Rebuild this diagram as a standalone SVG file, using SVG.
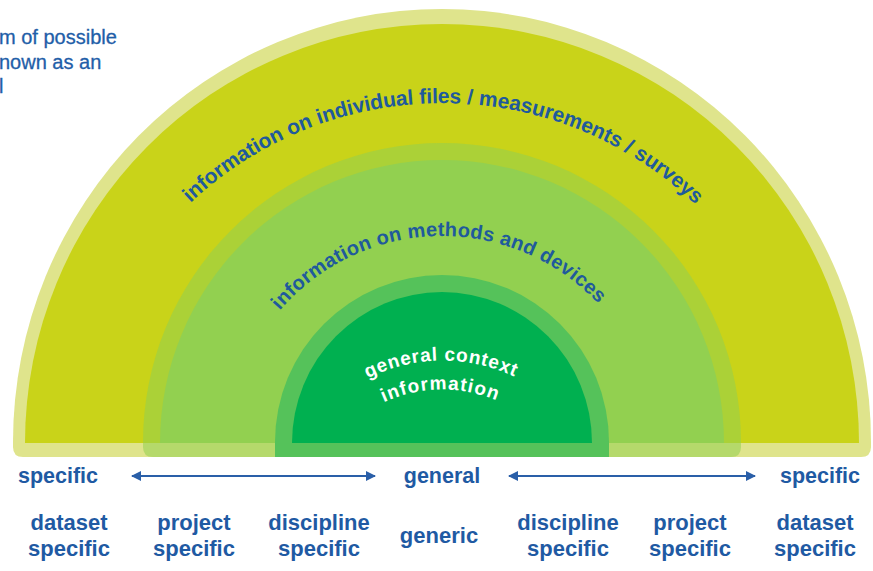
<svg xmlns="http://www.w3.org/2000/svg" width="873" height="571" viewBox="0 0 873 571">
<style>
.lbl{font-family:"Liberation Sans",Arial,sans-serif;font-weight:bold;fill:#1f5aa3;text-anchor:middle}
.arc{font-family:"Liberation Sans",Arial,sans-serif;font-weight:bold;fill:#1f5a9c}
.wht{font-family:"Liberation Sans",Arial,sans-serif;font-weight:bold;fill:#ffffff}
.note{font-family:"Liberation Sans",Arial,sans-serif;fill:#1f5ea8;font-size:20px;stroke:#1f5ea8;stroke-width:0.3}
.conn{stroke:#2a5fa8;stroke-width:2;fill:none}
</style>
<defs>
<marker id="ah" viewBox="0 0 10 10" refX="9" refY="5" markerWidth="5" markerHeight="5" orient="auto-start-reverse" markerUnits="strokeWidth">
<path d="M0,0 L10,5 L0,10 Z" fill="#2a5fa8"/>
</marker>
<path id="tp1" d="M75,470 A367,367 0 0 1 809,470"/>
<path id="tp2" d="M228,450 A214,214 0 0 1 656,450"/>
<path id="tp3" d="M362,381 Q440,341 520,379"/>
<path id="tp4" d="M380,404 Q440,376 500,402"/>
</defs>
<rect width="873" height="571" fill="#ffffff"/>

<g id="note">
<text class="note" x="-1" y="44">m of possible</text>
<text class="note" x="-1" y="69">nown as an</text>
<text class="note" x="-1" y="93">l</text>
</g>

<g id="outer">
<path d="M13,442 A429,433 0 0 1 871,442 L871,447 Q871,457 861,457 L23,457 Q13,457 13,447 Z" fill="#dfe48c"/>
<path d="M25,443 A417,419 0 0 1 859,443 Z" fill="#c9d319"/>
<text class="arc" font-size="21"><textPath href="#tp1" startOffset="299" textLength="557" lengthAdjust="spacing">information on individual files / measurements / surveys</textPath></text>
</g>

<g id="middle">
<path d="M143,442 A299,299 0 0 1 741,442 L741,447 Q741,457 731,457 L153,457 Q143,457 143,447 Z" fill="#92d050" fill-opacity="0.55"/>
<path d="M160,443 A282,283 0 0 1 724,443 Z" fill="#92d050"/>
<text class="arc" font-size="20"><textPath href="#tp2" startOffset="152" textLength="359" lengthAdjust="spacing">information on methods and devices</textPath></text>
</g>

<g id="inner">
<path d="M275,442 A167,167 0 0 1 609,442 L609,457 L275,457 Z" fill="#55c25a"/>
<path d="M292,443 A150,151 0 0 1 592,443 Z" fill="#00b050"/>
<text class="wht" font-size="19"><textPath href="#tp3" startOffset="50%" text-anchor="middle" textLength="152" lengthAdjust="spacing">general context</textPath></text>
<text class="wht" font-size="19"><textPath href="#tp4" startOffset="50%" text-anchor="middle" textLength="116" lengthAdjust="spacing">information</textPath></text>
</g>

<g id="connectors">
<line class="conn" x1="132" y1="476" x2="375" y2="476" marker-start="url(#ah)" marker-end="url(#ah)"/>
<line class="conn" x1="509" y1="476" x2="755" y2="476" marker-start="url(#ah)" marker-end="url(#ah)"/>
</g>

<g id="scale-labels">
<text class="lbl" font-size="21.5" x="58" y="483">specific</text>
<text class="lbl" font-size="21.5" x="442" y="483">general</text>
<text class="lbl" font-size="21.5" x="820" y="483">specific</text>
</g>

<g id="category-labels">
<text class="lbl" font-size="22" x="69" y="530">dataset</text>
<text class="lbl" font-size="22" x="69" y="556">specific</text>
<text class="lbl" font-size="22" x="194" y="530">project</text>
<text class="lbl" font-size="22" x="194" y="556">specific</text>
<text class="lbl" font-size="22" x="319" y="530">discipline</text>
<text class="lbl" font-size="22" x="319" y="556">specific</text>
<text class="lbl" font-size="22" x="439" y="543">generic</text>
<text class="lbl" font-size="22" x="568" y="530">discipline</text>
<text class="lbl" font-size="22" x="568" y="556">specific</text>
<text class="lbl" font-size="22" x="690" y="530">project</text>
<text class="lbl" font-size="22" x="690" y="556">specific</text>
<text class="lbl" font-size="22" x="815" y="530">dataset</text>
<text class="lbl" font-size="22" x="815" y="556">specific</text>
</g>
</svg>
